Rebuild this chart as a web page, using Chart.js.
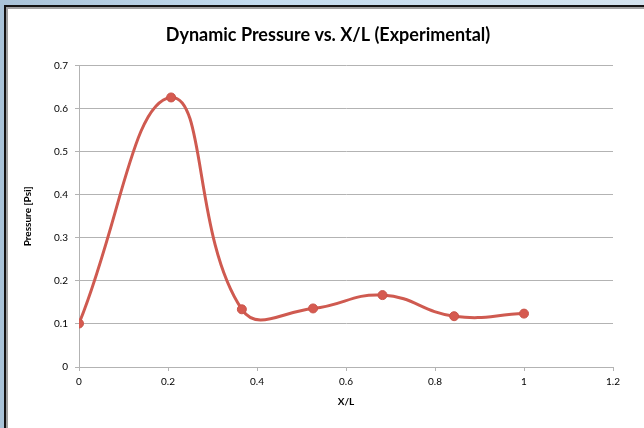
<!DOCTYPE html>
<html>
<head>
<meta charset="utf-8">
<script src="https://cdn.jsdelivr.net/npm/chart.js@4"></script>
<style>
  html, body { margin: 0; padding: 0; }
  body {
    width: 644px; height: 428px; overflow: hidden; position: relative;
    background: linear-gradient(90deg, #a9c3d8 0%, #c4dcef 40%, #d4e3ee 100%);
  }
  .frame {
    position: absolute; left: 4px; top: 5px; width: 660px; height: 440px;
    border-left: 2px solid #141414; border-top: 2px solid #141414;
    box-shadow: inset 2px 2px 0 #a0a0a0;
    background: #fff;
  }
  #myChart { position: absolute; left: 0; top: 0; }
</style>
</head>
<body>
<div class="frame"></div>
<canvas id="myChart" width="644" height="428"></canvas>
<script>
const xOverL = [0, 0.207, 0.366, 0.526, 0.682, 0.843, 1.0];
const pressure = [0.101, 0.626, 0.134, 0.136, 0.167, 0.118, 0.124];
const xTicks = [0, 0.2, 0.4, 0.6, 0.8, 1, 1.2];
const yTicks = [0, 0.1, 0.2, 0.3, 0.4, 0.5, 0.6, 0.7];

const lineColor = '#cf5a50';
const gridColor = '#b3b3b3';
const font = 'Lato, "Open Sans", sans-serif';

const ctx = document.getElementById('myChart');

const points = xOverL.map((x, i) => ({ x: x, y: pressure[i] }));

const myChart = new Chart(ctx, {
    type: 'scatter',
    data: {
        datasets: [{
            label: 'Pressure',
            data: points,
            showLine: true,
            borderColor: lineColor,
            backgroundColor: lineColor,
            borderWidth: 3,
            tension: 0.45,
            pointRadius: 4.5,
            pointBorderWidth: 1,
            pointBorderColor: '#c8544a',
            pointBackgroundColor: '#d65a50'
        }]
    },
    options: {
        responsive: false,
        animation: false,
        layout: { padding: { left: 12, right: 0, top: 0, bottom: 17 } },
        plugins: {
            legend: { display: false },
            tooltip: { enabled: false },
            title: {
                display: true,
                text: 'Dynamic Pressure vs. X/L (Experimental)',
                color: '#000',
                font: { family: font, size: 18, weight: 'bold' },
                padding: { top: 24, bottom: 20 }
            }
        },
        scales: {
            x: {
                type: 'linear',
                min: 0,
                max: 1.2,
                afterBuildTicks: s => { s.ticks = xTicks.map(v => ({ value: v })); },
                afterFit: s => { s.height = 44; },
                ticks: {
                    color: '#000',
                    font: { family: font, size: 10 },
                    padding: 5,
                    maxRotation: 0,
                    callback: v => String(v)
                },
                grid: { drawOnChartArea: false, drawTicks: true, tickLength: 4, color: gridColor },
                border: { color: gridColor },
                title: {
                    display: true,
                    text: 'X/L',
                    color: '#000',
                    font: { family: font, size: 10, weight: 'bold' },
                    padding: { top: 0, bottom: 3 }
                }
            },
            y: {
                type: 'linear',
                min: 0,
                max: 0.7,
                afterBuildTicks: s => { s.ticks = yTicks.map(v => ({ value: v })); },
                afterFit: s => { s.width = 67; },
                ticks: {
                    color: '#000',
                    font: { family: font, size: 10 },
                    padding: 7,
                    callback: v => String(v)
                },
                grid: { color: gridColor, drawTicks: true, tickLength: 4 },
                border: { color: gridColor },
                title: {
                    display: true,
                    text: 'Pressure [Psi]',
                    color: '#000',
                    font: { family: font, size: 10, weight: 'bold' },
                    padding: { top: 10, bottom: 0 }
                }
            },
            edge: {
                type: 'linear',
                position: 'right',
                display: true,
                afterFit: s => { s.width = 31; },
                ticks: { display: false },
                grid: { display: false },
                border: { display: false }
            }
        }
    }
});
</script>
</body>
</html>
